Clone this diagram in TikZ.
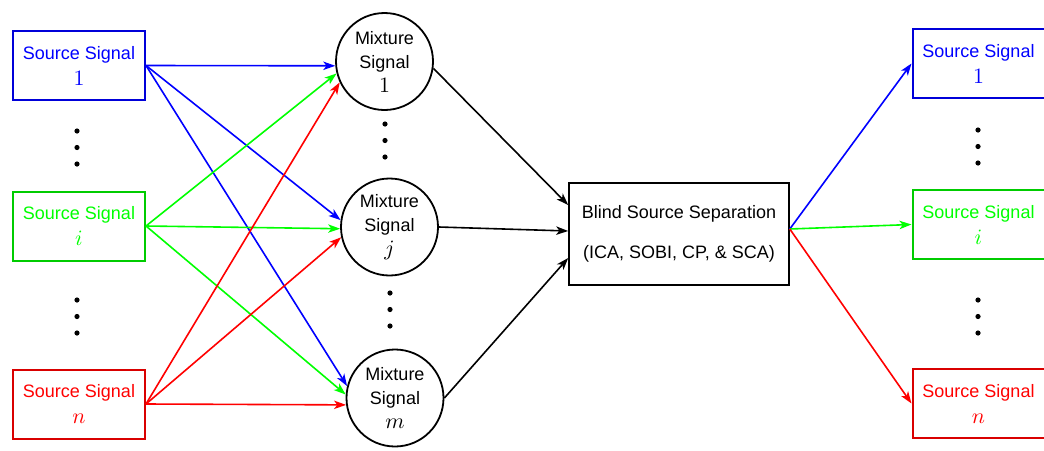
\documentclass[tikz,border=0pt]{standalone}
\usepackage{fontspec}
\setmainfont{Liberation Sans}
\usetikzlibrary{arrows.meta}

% index symbol set a little larger than the label text
\newcommand{\idx}[1]{{\fontsize{11}{12}\selectfont$#1$}}

\begin{document}
\begin{tikzpicture}[x=0.5pt,y=-0.5pt,
  every node/.style={font=\fontsize{9}{13}\selectfont, align=center},
  srcbox/.style={draw, line width=1pt, minimum width=66pt, minimum height=34.5pt, inner sep=0pt},
  mixnode/.style={draw, circle, line width=0.9pt, minimum size=48.5pt, inner sep=0pt, font=\fontsize{9}{12}\selectfont},
  bssbox/.style={draw, line width=0.8pt, minimum width=110pt, minimum height=51pt, inner sep=0pt},
  conn/.style={line width=0.8pt, -{Stealth[length=6pt,width=4.2pt,inset=1.6pt]}},
  dot/.style={radius=2.6}
]
\useasboundingbox (0,0) rectangle (1044,450);

% sources
\node[srcbox, draw=blue!85!black, text=blue]   (s1) at (79,65.5)  {Source Signal\\\idx{1}};
\node[srcbox, draw=green!80!black, text=green] (si) at (79,226)   {Source Signal\\\idx{i}};
\node[srcbox, draw=red!85!black, text=red]     (sn) at (79,404)   {Source Signal\\\idx{n}};

% mixtures
\node[mixnode] (m1) at (384.5,61.5) {Mixture\\Signal\\\idx{1}};
\node[mixnode] (mj) at (389.5,227)  {Mixture\\Signal\\\idx{j}};
\node[mixnode] (mm) at (395,398)    {Mixture\\Signal\\\idx{m}};

% separation block
\node[bssbox] (bss) at (679,234) {Blind Source Separation\\[7pt](ICA, SOBI, CP, \& SCA)};

% recovered sources
\node[srcbox, draw=blue!85!black, text=blue]   (r1) at (978.5,63.5)  {Source Signal\\\idx{1}};
\node[srcbox, draw=green!80!black, text=green] (ri) at (978.5,224.5) {Source Signal\\\idx{i}};
\node[srcbox, draw=red!85!black, text=red]     (rn) at (978.5,403.5) {Source Signal\\\idx{n}};

% vertical ellipses
\foreach \x/\y in {77/131, 77/300, 385/124, 390/293, 978/130, 978/300}{
  \fill (\x,\y) circle[dot];
  \fill (\x,\y+16.5) circle[dot];
  \fill (\x,\y+33) circle[dot];
}

% mixing
\draw[conn, blue]  (s1.east) -- (m1.185);
\draw[conn, blue]  (s1.east) -- (mj.172);
\draw[conn, blue]  (s1.east) -- (mm.166);
\draw[conn, green] (si.east) -- (m1.194);
\draw[conn, green] (si.east) -- (mj.182);
\draw[conn, green] (si.east) -- (mm.176);
\draw[conn, red]   (sn.east) -- (m1.205);
\draw[conn, red]   (sn.east) -- (mj.192);
\draw[conn, red]   (sn.east) -- (mm.188);

% into the separation block
\coordinate (in1) at ([yshift=14.5pt]bss.west);
\coordinate (in2) at ([yshift=1.5pt]bss.west);
\coordinate (in3) at ([yshift=-12pt]bss.west);
\draw[conn] (m1.-8) -- (in1);
\draw[conn] (mj.east) -- (in2);
\draw[conn] (mm.east) -- (in3);

% separated outputs
\coordinate (out) at ([yshift=2.5pt]bss.east);
\draw[conn, blue]  (out) -- (r1.west);
\draw[conn, green] (out) -- (ri.west);
\draw[conn, red]   (out) -- (rn.west);
\end{tikzpicture}
\end{document}
